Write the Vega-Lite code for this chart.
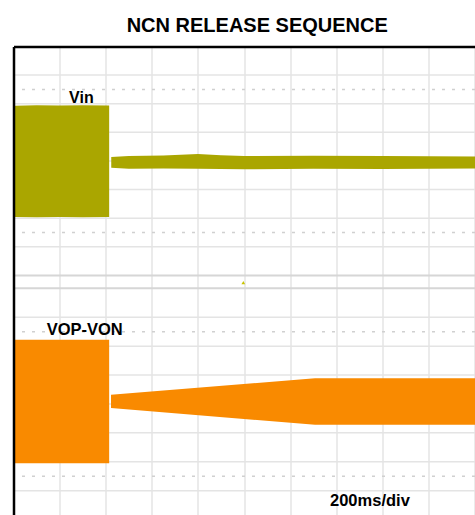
{
  "$schema": "https://vega.github.io/schema/vega-lite/v6.json",
  "autosize": {"type": "none"},
  "padding": {"left": 13.5, "top": 46.5, "right": 0, "bottom": 0},
  "width": 461.5,
  "height": 468.5,
  "background": "white",
  "view": {"stroke": null},
  "config": {"font": "Liberation Sans"},
  "title": {
    "text": "NCN RELEASE SEQUENCE",
    "font": "Liberation Sans",
    "fontSize": 20,
    "fontWeight": "bold",
    "color": "black",
    "anchor": "middle",
    "dx": 13,
    "baseline": "alphabetic",
    "offset": -5
  },
  "datasets": {
    "traces": [
      {"series": "Vin", "seg": "Vin-on", "t": 5, "top": 2.07, "bot": 5.96},
      {"series": "Vin", "seg": "Vin-on", "t": 100, "top": 2.05, "bot": 5.97},
      {"series": "Vin", "seg": "Vin-on", "t": 200, "top": 2.06, "bot": 5.96},
      {"series": "Vin", "seg": "Vin-on", "t": 300, "top": 2.05, "bot": 5.97},
      {"series": "Vin", "seg": "Vin-on", "t": 415, "top": 2.06, "bot": 5.96},
      {"series": "Vin", "seg": "Vin-off", "t": 424, "top": 3.86, "bot": 4.24},
      {"series": "Vin", "seg": "Vin-off", "t": 500, "top": 3.83, "bot": 4.27},
      {"series": "Vin", "seg": "Vin-off", "t": 650, "top": 3.81, "bot": 4.26},
      {"series": "Vin", "seg": "Vin-off", "t": 800, "top": 3.76, "bot": 4.27},
      {"series": "Vin", "seg": "Vin-off", "t": 900, "top": 3.8, "bot": 4.28},
      {"series": "Vin", "seg": "Vin-off", "t": 1000, "top": 3.83, "bot": 4.29},
      {"series": "Vin", "seg": "Vin-off", "t": 1300, "top": 3.82, "bot": 4.27},
      {"series": "Vin", "seg": "Vin-off", "t": 1600, "top": 3.83, "bot": 4.28},
      {"series": "Vin", "seg": "Vin-off", "t": 2002, "top": 3.84, "bot": 4.26},
      {"series": "VOP-VON", "seg": "Vout-on", "t": 5, "top": 10.25, "bot": 14.56},
      {"series": "VOP-VON", "seg": "Vout-on", "t": 415, "top": 10.25, "bot": 14.56},
      {"series": "VOP-VON", "seg": "Vout-off", "t": 423, "top": 12.17, "bot": 12.63},
      {"series": "VOP-VON", "seg": "Vout-off", "t": 1308, "top": 11.59, "bot": 13.22},
      {"series": "VOP-VON", "seg": "Vout-off", "t": 2002, "top": 11.59, "bot": 13.22}
    ],
    "hgrid": [
      {"y": 1}, {"y": 2}, {"y": 3}, {"y": 4}, {"y": 5}, {"y": 6}, {"y": 7},
      {"y": 9.46}, {"y": 10.47}, {"y": 11.48}, {"y": 12.49}, {"y": 13.5}, {"y": 14.51}, {"y": 15.52}
    ],
    "cursors": [
      {"y": 1.5},
      {"y": 6.5},
      {"y": 9.965},
      {"y": 15.02}
    ],
    "panelEdges": [
      {"y": 8},
      {"y": 8.45}
    ],
    "labels": [
      {"label": "Vin"},
      {"label": "VOP-VON"},
      {"label": "200ms/div"}
    ]
  },
  "layer": [
    {
      "data": {"name": "hgrid"},
      "mark": {"type": "rule", "color": "#e4e4e4", "strokeWidth": 1.5},
      "encoding": {
        "y": {
          "field": "y",
          "type": "quantitative",
          "scale": {"domain": [0, 16.37], "nice": false, "zero": false, "reverse": true},
          "axis": {
            "orient": "left",
            "labels": false,
            "ticks": false,
            "grid": false,
            "title": null,
            "domain": true,
            "domainColor": "black",
            "domainWidth": 2.5,
            "zindex": 2
          }
        }
      }
    },
    {
      "data": {"name": "cursors"},
      "mark": {"type": "rule", "color": "#d0d0d0", "strokeWidth": 1.5, "strokeDash": [3, 7]},
      "encoding": {
        "y": {"field": "y", "type": "quantitative"}
      }
    },
    {
      "data": {"name": "panelEdges"},
      "mark": {"type": "rule", "color": "#d6d6d6", "strokeWidth": 2},
      "encoding": {
        "y": {"field": "y", "type": "quantitative"}
      }
    },
    {
      "data": {"name": "traces"},
      "mark": {"type": "area", "interpolate": "linear", "opacity": 1},
      "encoding": {
        "x": {
          "field": "t",
          "type": "quantitative",
          "scale": {"domain": [0, 2002], "nice": false, "zero": false},
          "axis": {
            "orient": "top",
            "values": [0, 200, 400, 600, 800, 1000, 1200, 1400, 1600, 1800, 2000],
            "labels": false,
            "ticks": false,
            "title": null,
            "domain": true,
            "grid": true,
            "domainColor": "black",
            "domainWidth": 2.5,
            "gridColor": "#e4e4e4",
            "gridWidth": 1.5
          }
        },
        "y": {"field": "top", "type": "quantitative"},
        "y2": {"field": "bot"},
        "detail": {"field": "seg"},
        "color": {
          "field": "series",
          "type": "nominal",
          "scale": {"domain": ["Vin", "VOP-VON"], "range": ["#aaa600", "#f98a00"]},
          "legend": null
        }
      }
    },
    {
      "data": {"values": [{"marker": "trigger"}]},
      "mark": {"type": "point", "shape": "triangle-up", "filled": true, "size": 14, "color": "#c8c400", "opacity": 1},
      "encoding": {
        "x": {"datum": 997, "type": "quantitative"},
        "y": {"datum": 8.25, "type": "quantitative"}
      }
    },
    {
      "data": {"name": "labels"},
      "transform": [{"filter": "datum.label == 'Vin'"}],
      "mark": {"type": "text", "align": "left", "baseline": "alphabetic", "fontSize": 16, "fontWeight": "bold", "font": "Liberation Sans", "color": "black"},
      "encoding": {
        "x": {"datum": 241, "type": "quantitative"},
        "y": {"datum": 1.98, "type": "quantitative"},
        "text": {"field": "label"}
      }
    },
    {
      "data": {"name": "labels"},
      "transform": [{"filter": "datum.label == 'VOP-VON'"}],
      "mark": {"type": "text", "align": "left", "baseline": "alphabetic", "fontSize": 16.5, "fontWeight": "bold", "font": "Liberation Sans", "color": "black"},
      "encoding": {
        "x": {"datum": 144, "type": "quantitative"},
        "y": {"datum": 10.07, "type": "quantitative"},
        "text": {"field": "label"}
      }
    },
    {
      "data": {"name": "labels"},
      "transform": [{"filter": "datum.label == '200ms/div'"}],
      "mark": {"type": "text", "align": "left", "baseline": "alphabetic", "fontSize": 16.5, "fontWeight": "bold", "font": "Liberation Sans", "color": "black"},
      "encoding": {
        "x": {"datum": 1373, "type": "quantitative"},
        "y": {"datum": 16.05, "type": "quantitative"},
        "text": {"field": "label"}
      }
    }
  ]
}
